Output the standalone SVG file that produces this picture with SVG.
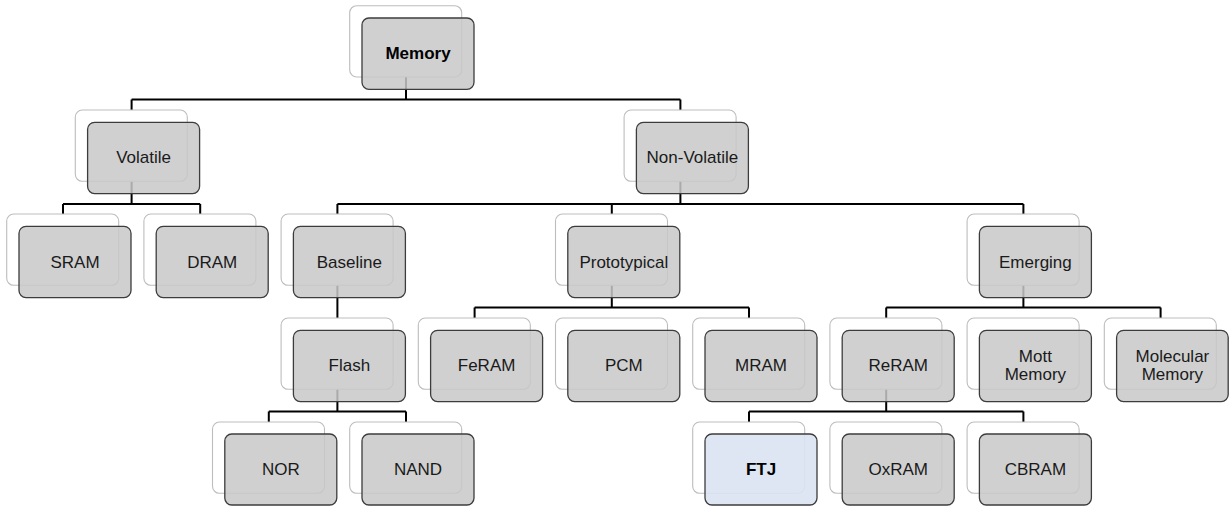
<svg xmlns="http://www.w3.org/2000/svg" width="1229" height="506" viewBox="0 0 1229 506">
<style>
.bk{fill:#ffffff;stroke:#bdbdbd;stroke-width:1.1}
.fr{fill:#c8c8c8;fill-opacity:0.85;stroke:#3c3c3c;stroke-width:1.3}
.ftj{fill:#dce3f2;fill-opacity:0.9;stroke:#3c3c3c;stroke-width:1.3}
.t{font-family:"Liberation Sans",Arial,sans-serif;font-size:17px;fill:#1a1a1a;text-anchor:middle}
.b{font-weight:bold;fill:#000}
.c{fill:none;stroke:#000;stroke-width:2}
</style>
<defs>
<rect id="bf" class="bk" width="112" height="71.3" rx="7"/>
</defs>
<g id="connectors">
<path class="c" d="M406 77V99.5M131.6 99.5H680.4M131.6 99.5V110M680.4 99.5V110"/>
<path class="c" d="M131.6 181.3V204M63 204H200.2M63 204V214M200.2 204V214"/>
<path class="c" d="M680.4 181.3V204M337.4 204H1023.4M337.4 204V214M611.8 204V214M1023.4 204V214"/>
<path class="c" d="M337.4 285.3V318"/>
<path class="c" d="M611.8 285.3V307.5M474.6 307.5H749M474.6 307.5V318M749 307.5V318"/>
<path class="c" d="M1023.4 285.3V307.5M886.2 307.5H1160.6M886.2 307.5V318M1160.6 307.5V318"/>
<path class="c" d="M337.4 389.3V411.5M268.8 411.5H406M268.8 411.5V422M406 411.5V422"/>
<path class="c" d="M886.2 389.3V411.5M749 411.5H1023.4M749 411.5V422M1023.4 411.5V422"/>
</g>
<g id="memory"><use href="#bf" x="349.7" y="5.7"/><rect class="fr" x="362" y="18" width="112" height="71.3" rx="7"/><text class="t b" x="418" y="59.3">Memory</text></g>
<g id="volatile"><use href="#bf" x="75.3" y="110"/><rect class="fr" x="87.6" y="122.3" width="112" height="71.3" rx="7"/><text class="t" x="143.6" y="163.2">Volatile</text></g>
<g id="non-volatile"><use href="#bf" x="624.1" y="110"/><rect class="fr" x="636.4" y="122.3" width="112" height="71.3" rx="7"/><text class="t" x="692.4" y="163.2">Non-Volatile</text></g>
<g id="sram"><use href="#bf" x="6.7" y="214"/><rect class="fr" x="19" y="226.3" width="112" height="71.3" rx="7"/><text class="t" x="75" y="267.5">SRAM</text></g>
<g id="dram"><use href="#bf" x="143.9" y="214"/><rect class="fr" x="156.2" y="226.3" width="112" height="71.3" rx="7"/><text class="t" x="212.2" y="267.5">DRAM</text></g>
<g id="baseline"><use href="#bf" x="281.1" y="214"/><rect class="fr" x="293.4" y="226.3" width="112" height="71.3" rx="7"/><text class="t" x="349.4" y="267.5">Baseline</text></g>
<g id="prototypical"><use href="#bf" x="555.5" y="214"/><rect class="fr" x="567.8" y="226.3" width="112" height="71.3" rx="7"/><text class="t" x="623.8" y="267.5">Prototypical</text></g>
<g id="emerging"><use href="#bf" x="967.1" y="214"/><rect class="fr" x="979.4" y="226.3" width="112" height="71.3" rx="7"/><text class="t" x="1035.4" y="267.5">Emerging</text></g>
<g id="flash"><use href="#bf" x="281.1" y="318"/><rect class="fr" x="293.4" y="330.3" width="112" height="71.3" rx="7"/><text class="t" x="349.4" y="371.3">Flash</text></g>
<g id="feram"><use href="#bf" x="418.3" y="318"/><rect class="fr" x="430.6" y="330.3" width="112" height="71.3" rx="7"/><text class="t" x="486.6" y="371.3">FeRAM</text></g>
<g id="pcm"><use href="#bf" x="555.5" y="318"/><rect class="fr" x="567.8" y="330.3" width="112" height="71.3" rx="7"/><text class="t" x="623.8" y="371.3">PCM</text></g>
<g id="mram"><use href="#bf" x="692.7" y="318"/><rect class="fr" x="705" y="330.3" width="112" height="71.3" rx="7"/><text class="t" x="761" y="371.3">MRAM</text></g>
<g id="reram"><use href="#bf" x="829.9" y="318"/><rect class="fr" x="842.2" y="330.3" width="112" height="71.3" rx="7"/><text class="t" x="898.2" y="371.3">ReRAM</text></g>
<g id="mott-memory"><use href="#bf" x="967.1" y="318"/><rect class="fr" x="979.4" y="330.3" width="112" height="71.3" rx="7"/><text class="t" x="1035.4" y="362.3">Mott</text><text class="t" x="1035.4" y="379.5">Memory</text></g>
<g id="molecular-memory"><use href="#bf" x="1104.3" y="318"/><rect class="fr" x="1116.6" y="330.3" width="111.6" height="71.3" rx="7"/><text class="t" x="1172.4" y="362.3">Molecular</text><text class="t" x="1172.4" y="379.5">Memory</text></g>
<g id="nor"><use href="#bf" x="212.5" y="422"/><rect class="fr" x="224.8" y="434" width="112" height="71" rx="7"/><text class="t" x="280.8" y="475.3">NOR</text></g>
<g id="nand"><use href="#bf" x="349.7" y="422"/><rect class="fr" x="362" y="434" width="112" height="71" rx="7"/><text class="t" x="418" y="475.3">NAND</text></g>
<g id="ftj"><use href="#bf" x="692.7" y="422"/><rect class="ftj" x="705" y="434" width="112" height="71" rx="7"/><text class="t b" x="761" y="475.3">FTJ</text></g>
<g id="oxram"><use href="#bf" x="829.9" y="422"/><rect class="fr" x="842.2" y="434" width="112" height="71" rx="7"/><text class="t" x="898.2" y="475.3">OxRAM</text></g>
<g id="cbram"><use href="#bf" x="967.1" y="422"/><rect class="fr" x="979.4" y="434" width="112" height="71" rx="7"/><text class="t" x="1035.4" y="475.3">CBRAM</text></g>
</svg>
